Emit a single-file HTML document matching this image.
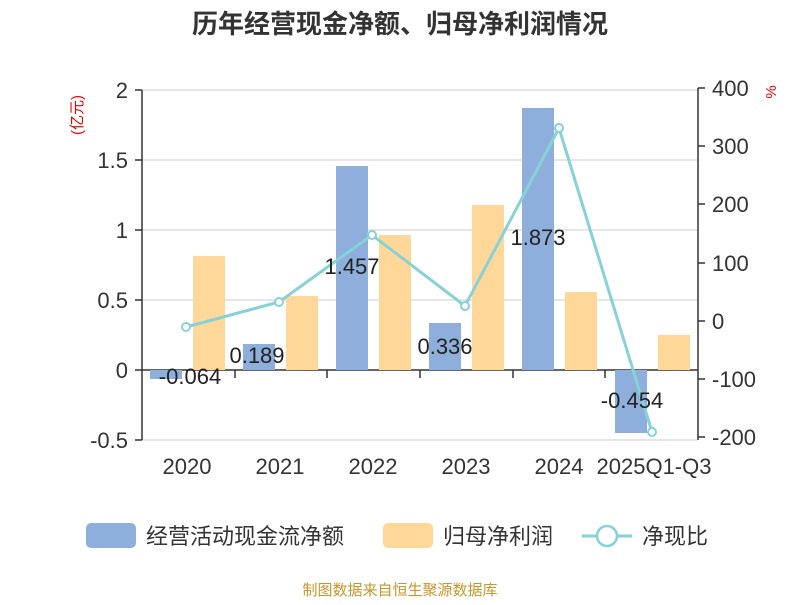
<!DOCTYPE html>
<html><head><meta charset="utf-8"><style>
body{margin:0;background:#fff}
svg text{font-family:"Liberation Sans","Noto Sans CJK SC",sans-serif}
</style></head><body>
<svg width="800" height="600" xmlns="http://www.w3.org/2000/svg">
<rect width="800" height="600" fill="#fff"/>
<text x="400" y="33" font-size="26" font-weight="bold" text-anchor="middle" fill="#333">历年经营现金净额、归母净利润情况</text>
<g stroke="#ccc" stroke-width="1">
<line x1="142" y1="90" x2="698" y2="90"/>
<line x1="142" y1="160" x2="698" y2="160"/>
<line x1="142" y1="230" x2="698" y2="230"/>
<line x1="142" y1="300" x2="698" y2="300"/>
<line x1="142" y1="440" x2="698" y2="440"/>
</g>
<g stroke="#333" stroke-width="1.5">
<line x1="142" y1="90" x2="142" y2="440"/>
<line x1="698" y1="88" x2="698" y2="440"/>
<line x1="142" y1="370" x2="698" y2="370"/>
<line x1="135" y1="90" x2="142" y2="90"/><line x1="135" y1="160" x2="142" y2="160"/><line x1="135" y1="230" x2="142" y2="230"/><line x1="135" y1="300" x2="142" y2="300"/><line x1="135" y1="370" x2="142" y2="370"/><line x1="135" y1="440" x2="142" y2="440"/>
<line x1="698" y1="88" x2="705" y2="88"/><line x1="698" y1="146" x2="705" y2="146"/><line x1="698" y1="204" x2="705" y2="204"/><line x1="698" y1="263" x2="705" y2="263"/><line x1="698" y1="321" x2="705" y2="321"/><line x1="698" y1="379" x2="705" y2="379"/><line x1="698" y1="437" x2="705" y2="437"/>
<line x1="235" y1="370" x2="235" y2="378"/><line x1="327" y1="370" x2="327" y2="378"/><line x1="420" y1="370" x2="420" y2="378"/><line x1="513" y1="370" x2="513" y2="378"/><line x1="605" y1="370" x2="605" y2="378"/>
</g>
<g font-size="22" fill="#333" text-anchor="end">
<text x="128" y="98">2</text><text x="128" y="168">1.5</text><text x="128" y="238">1</text><text x="128" y="308">0.5</text><text x="128" y="378">0</text><text x="128" y="448">-0.5</text>
</g>
<g font-size="22" fill="#333" text-anchor="start">
<text x="712" y="96">400</text><text x="712" y="154">300</text><text x="712" y="212">200</text><text x="712" y="271">100</text><text x="712" y="329">0</text><text x="712" y="387">-100</text><text x="712" y="445">-200</text>
</g>
<text x="82" y="115" font-size="15" fill="#e00" text-anchor="middle" transform="rotate(-90 82 115)">(亿元)</text>
<text x="776" y="92" font-size="15" fill="#e00" text-anchor="middle" transform="rotate(-90 776 92)">%</text>
<g font-size="22" fill="#333" text-anchor="middle">
<text x="187" y="474">2020</text><text x="280" y="474">2021</text><text x="373" y="474">2022</text><text x="466" y="474">2023</text><text x="559" y="474">2024</text><text x="654" y="474">2025Q1-Q3</text>
</g>
<g fill="#8eaedb">
<rect x="150" y="370" width="32" height="9"/>
<rect x="243" y="344" width="32" height="26"/>
<rect x="336" y="166" width="32" height="204"/>
<rect x="429" y="323" width="32" height="47"/>
<rect x="522" y="108" width="32" height="262"/>
<rect x="615" y="370" width="32" height="63"/>
</g>
<g fill="#ffd899">
<rect x="193" y="256" width="32" height="114"/>
<rect x="286" y="296" width="32" height="74"/>
<rect x="379" y="235" width="32" height="135"/>
<rect x="472" y="205" width="32" height="165"/>
<rect x="565" y="292" width="32" height="78"/>
<rect x="658" y="335" width="32" height="35"/>
</g>
<polyline points="186,327 279,302 372,235 465,306 559,128 652,432" fill="none" stroke="#86d2d6" stroke-width="3"/>
<g fill="#fff" stroke="#86d2d6" stroke-width="2">
<circle cx="186" cy="327" r="4"/><circle cx="279" cy="302" r="4"/><circle cx="372" cy="235" r="4"/><circle cx="465" cy="306" r="4"/><circle cx="559" cy="128" r="4"/><circle cx="652" cy="432" r="4"/>
</g>
<g font-size="22" fill="#222" text-anchor="middle">
<text x="190" y="384">-0.064</text><text x="257" y="363">0.189</text><text x="352" y="274">1.457</text><text x="445" y="354">0.336</text><text x="538" y="245">1.873</text><text x="632" y="408">-0.454</text>
</g>
<rect x="86" y="523" width="50" height="25" rx="5" fill="#8eaedb"/>
<text x="146" y="544" font-size="22" fill="#333">经营活动现金流净额</text>
<rect x="383" y="523" width="50" height="25" rx="5" fill="#ffd899"/>
<text x="443" y="544" font-size="22" fill="#333">归母净利润</text>
<line x1="582" y1="536" x2="632" y2="536" stroke="#86d2d6" stroke-width="3"/>
<circle cx="607" cy="536" r="10" fill="#fff" stroke="#86d2d6" stroke-width="2.5"/>
<text x="642" y="544" font-size="22" fill="#333">净现比</text>
<text x="400" y="595" font-size="15" fill="#c8962a" text-anchor="middle">制图数据来自恒生聚源数据库</text>
</svg>
</body></html>
